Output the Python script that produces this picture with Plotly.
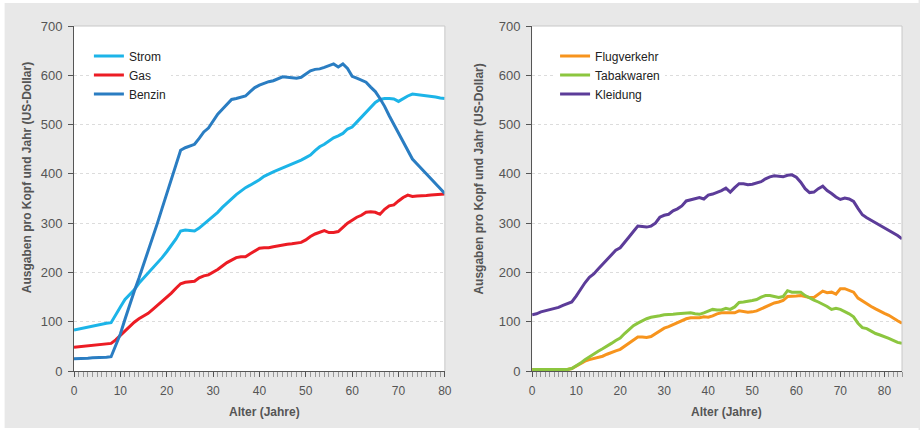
import plotly.graph_objects as go

# Alter in Jahren
alter_links = list(range(0, 81))
alter_rechts = list(range(0, 85))

strom = [83, 85, 87, 89, 92, 94, 95, 97, 98, 115, 130, 145, 155, 165, 178, 188, 198, 208, 218, 230,
         242, 255, 268, 284, 286, 285, 284, 290, 298, 305, 313, 322, 332, 341, 350, 358, 365, 372, 377, 382,
         388, 395, 400, 404, 408, 412, 415, 419, 423, 428, 433, 438, 447, 455, 460, 466, 473, 477, 482, 491,
         495, 505, 515, 525, 535, 545, 551, 553, 553, 552, 547, 553, 558, 562, 561, 560, 559, 557, 556, 554,
         553]
gas = [48, 49, 50, 51, 52, 53, 54, 55, 56, 63, 72, 82, 91, 99, 106, 112, 117, 125, 133, 141,
       149, 158, 168, 177, 180, 181, 182, 189, 193, 195, 200, 206, 213, 220, 225, 230, 232, 232, 238, 243,
       249, 250, 250, 252, 254, 255, 257, 258, 259, 261, 266, 273, 278, 281, 285, 281, 281, 283, 291, 300,
       306, 312, 316, 322, 323, 322, 318, 328, 335, 337, 345, 352, 357, 354, 355, 355, 356, 357, 358, 358,
       359]
benzin = [25, 25, 26, 26, 27, 27, 28, 28, 29, 52, 75, 105, 135, 162, 188, 215, 243, 271, 300, 330,
          360, 389, 418, 448, 453, 456, 460, 472, 485, 493, 506, 521, 531, 541, 551, 553, 555, 558, 567, 575,
          580, 584, 587, 589, 593, 597, 596, 595, 594, 596, 603, 609, 612, 613, 616, 619, 623, 617, 623, 614,
          598, 594, 590, 586, 576, 567, 553, 537, 518, 500, 483, 463, 448, 430, 420, 410, 400, 390, 380, 370,
          360]

flugverkehr = [3, 3, 3, 3, 3, 3, 3, 3, 3, 5, 10, 15, 20, 23, 25, 27, 30, 34, 38, 41,
               44, 50, 57, 63, 69, 69, 68, 70, 76, 82, 87, 90, 94, 97, 101, 106, 108, 108, 108, 110,
               109, 112, 116, 118, 118, 118, 118, 122, 121, 119, 120, 122, 126, 130, 134, 138, 140, 143, 151, 151,
               152, 153, 151, 149, 149, 155, 162, 159, 160, 156, 167, 167, 164, 160, 148, 142, 137, 131, 126, 121,
               117, 113, 107, 102, 97]
tabakwaren = [3, 3, 3, 3, 3, 3, 3, 3, 3, 5, 10, 16, 23, 29, 35, 40, 45, 50, 56, 62,
              67, 76, 85, 92, 97, 102, 106, 109, 110, 112, 114, 114, 115, 116, 117, 118, 118, 116, 115, 118,
              121, 125, 124, 124, 127, 125, 130, 139, 140, 141, 143, 145, 150, 153, 153, 151, 149, 151, 163, 160,
              160, 160, 153, 148, 144, 140, 136, 131, 125, 127, 125, 121, 116, 110, 97, 88, 86, 81, 76, 73,
              70, 66, 62, 58, 56]
kleidung = [114, 116, 120, 122, 124, 126, 129, 133, 136, 140, 152, 166, 179, 190, 197, 207, 217, 226, 236, 245,
            250, 260, 272, 283, 294, 293, 292, 294, 300, 312, 316, 318, 325, 329, 335, 345, 347, 349, 352, 349,
            357, 359, 362, 366, 371, 363, 372, 380, 380, 378, 379, 381, 384, 390, 394, 396, 395, 394, 397, 398,
            393, 383, 370, 362, 363, 370, 375, 366, 360, 353, 348, 351, 349, 344, 330, 317, 311, 306, 300, 295,
            290, 285, 280, 275, 268]

y_ticks = [0, 100, 200, 300, 400, 500, 600, 700]
x_ticks = [0, 10, 20, 30, 40, 50, 60, 70, 80]

FONT = "Arial, Liberation Sans, sans-serif"
BG = "#e8e8e8"

fig = go.Figure()

links = [("Strom", strom, "#1cb4e8"), ("Gas", gas, "#ec1c24"), ("Benzin", benzin, "#2a7dc2")]
rechts = [("Flugverkehr", flugverkehr, "#f7941d"), ("Tabakwaren", tabakwaren, "#8cc63f"),
          ("Kleidung", kleidung, "#5c3c99")]

for name, werte, farbe in links:
    fig.add_trace(go.Scatter(x=alter_links, y=werte, name=name, mode="lines",
                             line=dict(color=farbe, width=3), xaxis="x", yaxis="y", legend="legend"))
for name, werte, farbe in rechts:
    fig.add_trace(go.Scatter(x=alter_rechts, y=werte, name=name, mode="lines",
                             line=dict(color=farbe, width=3), xaxis="x2", yaxis="y2", legend="legend2"))

# Achsen gemeinsam
xachse = dict(
    tickvals=x_ticks, ticks="outside", ticklen=5, tickcolor="#555", showline=True,
    linecolor="#555", linewidth=1, showgrid=False, zeroline=False,
    tickfont=dict(size=12, color="#555", family=FONT), ticklabelstandoff=4,
    minor=dict(dtick=1, ticks="outside", ticklen=5, tickcolor="#999", showgrid=False),
)
yachse = dict(
    range=[0, 700], tickvals=y_ticks, ticks="outside", ticklen=5, tickcolor="#555",
    showline=True, linecolor="#555", linewidth=1, zeroline=False,
    showgrid=True, gridcolor="#dcdcdc", griddash="3px,3px", gridwidth=1,
    tickfont=dict(size=13, color="#555", family=FONT), ticklabelstandoff=3,
)

fig.update_layout(
    width=920, height=430,
    margin=dict(l=74, r=11, t=26, b=59),
    paper_bgcolor=BG, plot_bgcolor="white",
    font=dict(family=FONT, color="#333"),
    xaxis=dict(xachse, domain=[0, 0.4479], range=[0, 80], anchor="y"),
    yaxis=dict(yachse, anchor="x"),
    xaxis2=dict(xachse, domain=[0.5533, 1], range=[0, 84], anchor="y2"),
    yaxis2=dict(yachse, anchor="x2"),
    legend=dict(x=0.018, y=0.955, xanchor="left", yanchor="top", bgcolor="white",
                font=dict(size=12, color="#222"), itemwidth=30),
    legend2=dict(x=0.581, y=0.955, xanchor="left", yanchor="top", bgcolor="white",
                 font=dict(size=12, color="#222"), itemwidth=30),
    showlegend=True,
)

# Achsentitel
titel = dict(showarrow=False, xref="paper", yref="paper", xanchor="center", yanchor="middle",
             font=dict(size=12, color="#555", family=FONT))
y_titel = "<b>Ausgaben pro Kopf und Jahr (US-Dollar)</b>"
x_titel = "<b>Alter (Jahre)</b>"
fig.add_annotation(titel, text=y_titel, x=-0.0575, y=0.56, textangle=-90)
fig.add_annotation(titel, text=y_titel, x=0.488, y=0.555, textangle=-90)
fig.add_annotation(titel, text=x_titel, x=0.2299, y=-0.1188)
fig.add_annotation(titel, text=x_titel, x=0.7886, y=-0.1188)

# Rahmen oben/rechts (hellgrau)
for xr, yr in [("x domain", "y domain"), ("x2 domain", "y2 domain")]:
    fig.add_shape(type="line", xref=xr, yref=yr, x0=0, x1=1, y0=1, y1=1,
                  line=dict(color="#c8c8c8", width=1))
    fig.add_shape(type="line", xref=xr, yref=yr, x0=1, x1=1, y0=0, y1=1,
                  line=dict(color="#c8c8c8", width=1))

# schmaler weisser Rand ausserhalb der grauen Flaeche
rand = dict(type="rect", xref="paper", yref="paper", fillcolor="white", line=dict(width=0), layer="above")
fig.add_shape(rand, x0=-0.09, x1=-0.0838, y0=-0.2, y1=1.1)
fig.add_shape(rand, x0=-0.09, x1=1.02, y0=1.0667, y1=1.1)
fig.add_shape(rand, x0=-0.09, x1=1.02, y0=-0.2, y1=-0.1652)

# Seitenrand entfernen, damit die Grafik bei (0,0) beginnt
fig.write_html("out.html", config={"displayModeBar": False},
               post_script="document.body.style.margin='0px';")
